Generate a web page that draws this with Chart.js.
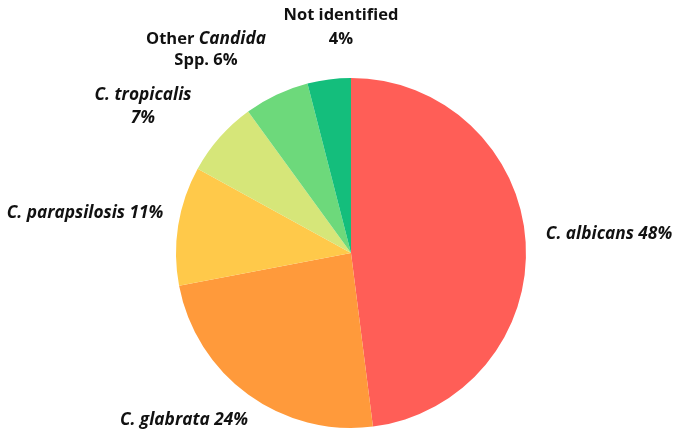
<!DOCTYPE html>
<html>
<head>
<meta charset="utf-8">
<script src="https://cdn.jsdelivr.net/npm/chart.js@4"></script>
<style>
html,body{margin:0;padding:0;background:#fff;}
#wrap{width:681px;height:441px;position:relative;}
</style>
</head>
<body>
<div id="wrap"><canvas id="c" width="681" height="441"></canvas></div>
<script>
const categories = ["C. albicans", "C. glabrata", "C. parapsilosis", "C. tropicalis", "Other Candida Spp.", "Not identified"];
const values = [48, 24, 11, 7, 6, 4];
const colors = ["#FF5E57", "#FF9A3B", "#FFC94A", "#D6E679", "#6DD97B", "#14BE7C"];

// label text: lines of [text, italic] segments
const labelLines = [
  [[["C. albicans " + values[0] + "%", true]]],
  [[["C. glabrata " + values[1] + "%", true]]],
  [[["C. parapsilosis " + values[2] + "%", true]]],
  [[["C. tropicalis", true]], [[values[3] + "%", true]]],
  [[["Other ", false], ["Candida", true]], [["Spp. " + values[4] + "%", false]]],
  [[["Not identified", false]], [[values[5] + "%", false]]]
];

// label anchors (centre x, first line y, line step), layout only
const labelPos = [
  {x: 609, y: 234, lh: 0},
  {x: 184, y: 420, lh: 0},
  {x: 85, y: 213, lh: 0},
  {x: 143, y: 95, lh: 23},
  {x: 206, y: 39, lh: 21},
  {x: 341, y: 15, lh: 24}
];

const labelPlugin = {
  id: 'labels',
  afterDraw(chart) {
    const ctx = chart.ctx;
    ctx.save();
    ctx.fillStyle = '#111';
    ctx.textBaseline = 'middle';
    const fontFor = it => (it ? 'italic bold 17.3px ' : 'bold 16.5px ') + '"Open Sans", sans-serif';
    labelLines.forEach((lines, i) => {
      const p = labelPos[i];
      lines.forEach((segs, li) => {
        let w = 0;
        segs.forEach(s => { ctx.font = fontFor(s[1]); w += ctx.measureText(s[0]).width; });
        let x = p.x - w / 2;
        segs.forEach(s => {
          ctx.font = fontFor(s[1]);
          ctx.textAlign = 'left';
          ctx.fillText(s[0], x, p.y + li * p.lh);
          x += ctx.measureText(s[0]).width;
        });
      });
    });
    ctx.restore();
  }
};

new Chart(document.getElementById('c'), {
  type: 'pie',
  data: {
    labels: categories,
    datasets: [{
      data: values,
      backgroundColor: colors,
      borderWidth: 0
    }]
  },
  options: {
    responsive: false,
    animation: false,
    layout: { padding: { left: 176, right: 155, top: 78, bottom: 13 } },
    plugins: {
      legend: { display: false },
      tooltip: { enabled: false }
    }
  },
  plugins: [labelPlugin]
});
</script>
</body>
</html>
